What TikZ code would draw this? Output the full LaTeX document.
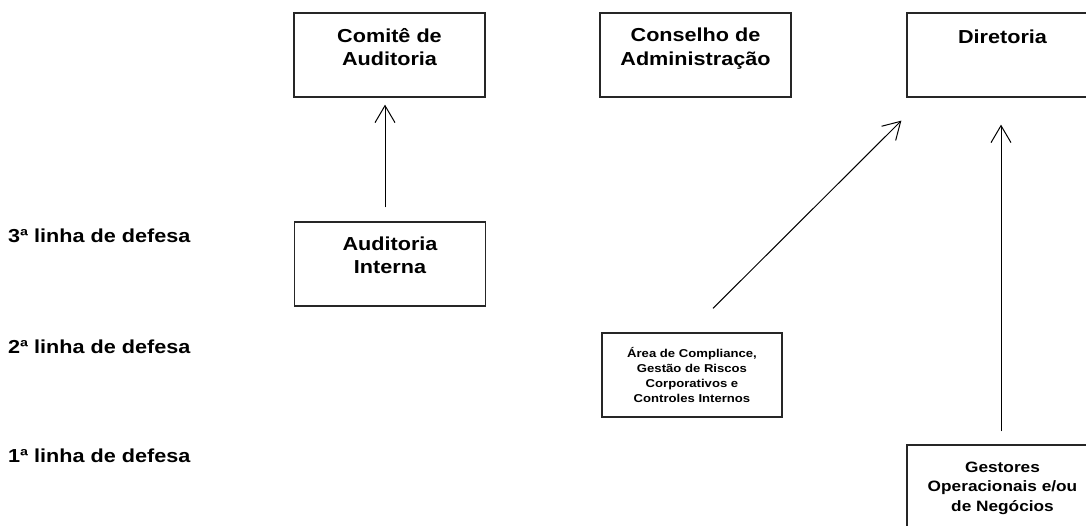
\documentclass[tikz,border=0pt]{standalone}
\usepackage{fontspec}
\setmainfont{Liberation Sans}[FakeStretch=1.15]
\usetikzlibrary{positioning,arrows.meta}
\definecolor{BoxLine}{HTML}{262626}

\begin{document}
\begin{tikzpicture}[x=1pt, y=-1pt,
      every node/.style={align=center, inner sep=0pt},
      box/.style={draw=BoxLine, line width=1.3pt, minimum width=191pt, minimum height=84pt},
      title/.style={font=\fontsize{18.8}{23.5}\selectfont\bfseries},
      smalltext/.style={font=\fontsize{11.4}{15}\selectfont\bfseries},
      midtext/.style={font=\fontsize{15}{19.5}\selectfont\bfseries},
      level/.style={font=\fontsize{18.8}{23.5}\selectfont\bfseries, anchor=base west},
      arrow/.style={line width=1pt, -{Straight Barb[length=17pt, width=20pt]}}
    ]
      \useasboundingbox (0,0) rectangle (1086,526);
      \clip (0,0) rectangle (1086,526);

      % Lines of defence
      \node[level] (lvl3) at (8,243) {3ª linha de defesa};
      \node[level] (lvl2) at (8,353) {2ª linha de defesa};
      \node[level] (lvl1) at (8,462) {1ª linha de defesa};

      % Top boxes
      \node[box] (comite) at (389.5,55) {};
      \node[title, below=15.5pt of comite.north] (comiteT) {Comitê de\\Auditoria};

      \node[box] (conselho) at (695.5,55) {};
      \node[title, below=15.5pt of conselho.north] (conselhoT) {Conselho de\\Administração};

      \node[box] (diretoria) at (1002.5,55) {};
      \node[title, below=17pt of diretoria.north] (diretoriaT) {Diretoria};

      % Defence boxes
      \node[box] (audint) at (390,264) {};
      \node[title, below=15pt of audint.north] (audintT) {Auditoria\\Interna};

      \node[box, minimum width=180pt] (area) at (692,375) {};
      \node[smalltext, below=14.7pt of area.north] (areaT) {Área de Compliance,\\Gestão de Riscos\\Corporativos e\\Controles Internos};

      \node[box] (gestores) at (1002.5,487) {};
      \node[midtext, below=17pt of gestores.north] (gestoresT) {Gestores\\Operacionais e/ou\\de Negócios};

      % Arrows
      \draw[arrow, shorten <=14pt, shorten >=7pt] ([xshift=-5pt]audint.north) -- ([xshift=-4.5pt]comite.south);
      \coordinate (areaTail) at ([xshift=21pt, yshift=24pt]area.north);
      \coordinate (dirHead) at ([xshift=-5pt, yshift=-23pt]diretoria.south west);
      \draw[arrow] (areaTail) -- (dirHead);
      \draw[arrow, shorten <=13pt, shorten >=27pt] ([xshift=-1.5pt]gestores.north) -- ([xshift=-1.5pt]diretoria.south);

    \end{tikzpicture}
\end{document}
